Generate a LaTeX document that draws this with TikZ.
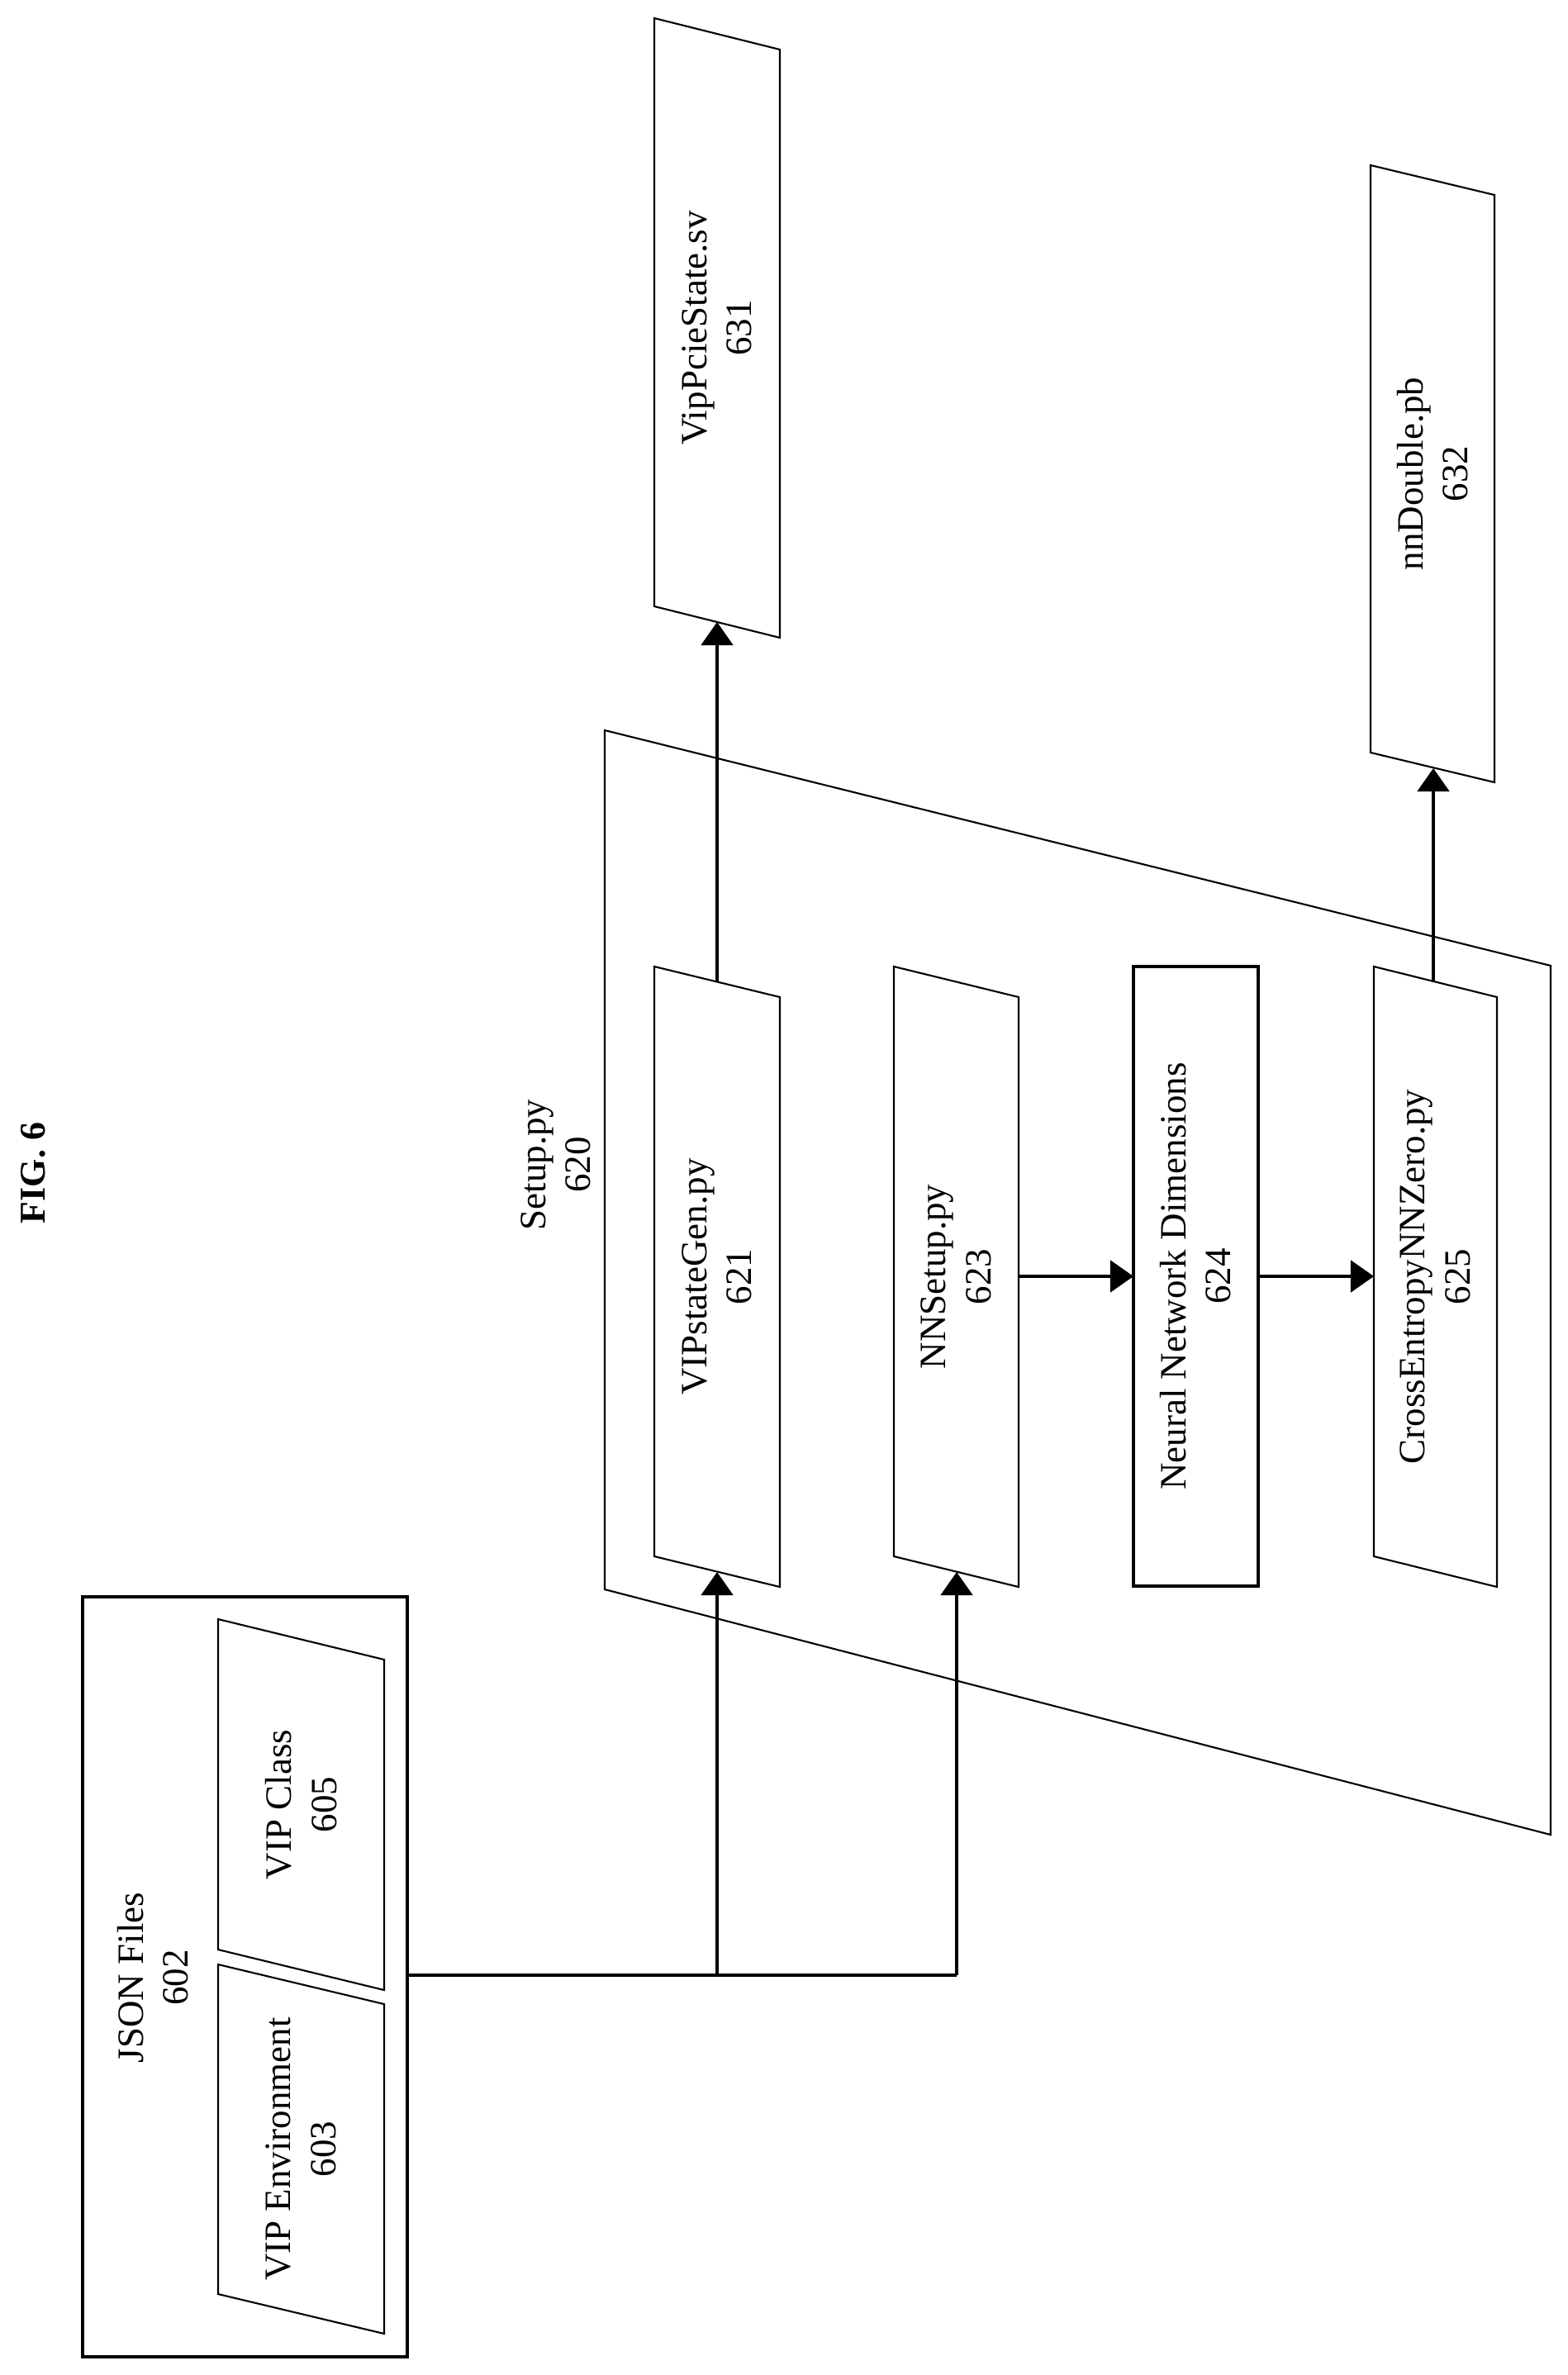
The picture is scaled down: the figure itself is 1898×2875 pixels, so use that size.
\documentclass[tikz,border=0pt]{standalone}
\usepackage{fontspec}
\setmainfont{Liberation Serif}
\usetikzlibrary{positioning,calc,arrows.meta}

\tikzset{
	box/.style={draw,line width=0.6pt},
	boldbox/.style={draw,line width=1.3pt},
	lbl/.style={rotate=90,align=center,font=\fontsize{12.8}{15.5}\selectfont},
	flow/.style={line width=0.9pt,-{Triangle[width=11pt,length=8pt]}},
	wire/.style={line width=0.9pt}
}

% slanted box: name, left x, top y, right x, bottom y, slant, text
\newcommand{\slantbox}[7]{
	\draw[box] (#2,#3) -- (#4,#3+#6) -- (#4,#5+#6) -- (#2,#5) -- cycle;
	\node[lbl] (#1) at ({(#2+#4)/2},{(#3+#5+#6)/2}) {#7};
}

\begin{document}
\begin{tikzpicture}[x=0.01cm,y=-0.01cm]
	\useasboundingbox (0,0) rectangle (1898,2875);
	
	\node[lbl,font=\bfseries\fontsize{12.5}{15}\selectfont] (fig) at (40,1420) {FIG. 6};
	
	% json files
	\draw[boldbox] (100,1933) rectangle (493,2853);
	\node[lbl] (json) at (185,2394) {JSON Files\\602};
	\slantbox{vipclass}{264}{1960}{465}{2360}{49}{VIP Class\\605}
	\slantbox{vipenv}{264}{2378}{465}{2777}{48}{VIP Environment\\603}
	
	% setup.py
	\draw[box] (732,884) -- (1877,1169) -- (1877,2221) -- (732,1924) -- cycle;
	\node[lbl] (setup) at (673,1410) {Setup.py\\620};
	\slantbox{stategen}{792}{1170}{944}{1884}{37}{VIPstateGen.py\\621}
	\slantbox{nnsetup}{1082}{1170}{1233}{1884}{37}{NNSetup.py\\623}
	\draw[boldbox] (1372,1170) rectangle (1523,1920);
	\node[lbl] (nndim) at (1447,1545) {Neural Network Dimensions\\624};
	\slantbox{xent}{1663}{1170}{1812}{1884}{37}{CrossEntropyNNZero.py\\625}
	
	% outputs
	\slantbox{pcie}{792}{22}{944}{734}{38}{VipPcieState.sv\\631}
	\slantbox{nndouble}{1659}{200}{1809}{911}{36}{nnDouble.pb\\632}
	
	\coordinate (jsonout) at (493,2391);
	\coordinate (split1) at (868,2391);
	\coordinate (split2) at (1158,2391);
	\coordinate (stategen in) at (868,1903);
	\coordinate (nnsetup in) at (1158,1903);
	\coordinate (stategen out) at (868,1189);
	\coordinate (pcie in) at (868,753);
	\coordinate (xent out) at (1735,1189);
	\coordinate (nndouble in) at (1735,930);
	\coordinate (nnsetup out) at (1233,1545);
	\coordinate (nndim in) at (1372,1545);
	\coordinate (nndim out) at (1523,1545);
	\coordinate (xent in) at (1663,1545);
	
	\draw[wire] (jsonout) -- (split2);
	\draw[flow] (split1) -- (stategen in);
	\draw[flow] (split2) -- (nnsetup in);
	\draw[flow] (stategen out) -- (pcie in);
	\draw[flow] (xent out) -- (nndouble in);
	\draw[flow] (nnsetup out) -- (nndim in);
	\draw[flow] (nndim out) -- (xent in);
\end{tikzpicture}
\end{document}
